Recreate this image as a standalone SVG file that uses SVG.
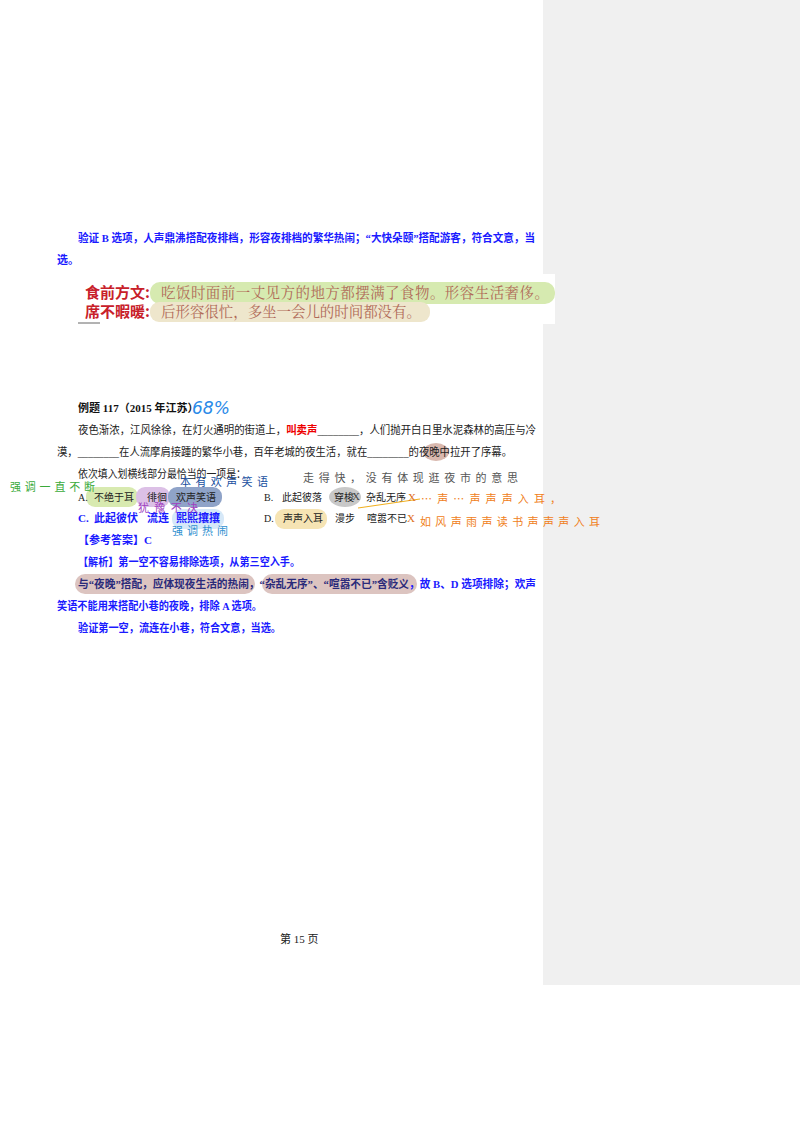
<svg xmlns="http://www.w3.org/2000/svg" width="800" height="1132" viewBox="0 0 800 1132">
<style>
text{font-family:"Liberation Serif","Noto Sans CJK SC",serif;font-size:11px}
.b{fill:#1a1aff;font-weight:bold}
.k{fill:#222}
.kb{fill:#111;font-weight:bold}
.hw{font-family:"Noto Sans CJK SC",sans-serif;font-size:11px}
.o text{font-size:10px}
</style>
<rect width="800" height="1132" fill="#fff"/>
<rect x="543" y="0" width="257" height="985" fill="#f0f0f0"/>
<g id="text1">
<text x="78" y="242" class="b" textLength="457" lengthAdjust="spacingAndGlyphs">验证 B 选项，人声鼎沸搭配夜排档，形容夜排档的繁华热闹；“大快朵颐”搭配游客，符合文意，当</text>
<text x="57" y="264" class="b">选。</text>
</g>
<g id="clip">
<rect x="80" y="274" width="475" height="50" fill="#fff"/>
<rect x="150" y="282" width="405" height="22" rx="10" fill="#d6eab0"/>
<rect x="150" y="302" width="280" height="20" rx="9" fill="#eee6cc"/>
<text x="85" y="298" style="font-family:'Noto Sans CJK SC',sans-serif;font-size:15px;font-weight:bold;fill:#c8202a">食前方文:</text>
<text x="85" y="317" style="font-family:'Noto Sans CJK SC',sans-serif;font-size:15px;font-weight:bold;fill:#c8202a">席不暇暖:</text>
<text x="161" y="298" textLength="388" style="font-family:'Noto Serif CJK SC','Noto Sans CJK SC',serif;font-size:14.5px;fill:#b06a58">吃饭时面前一丈见方的地方都摆满了食物。形容生活奢侈。</text>
<text x="161" y="317" textLength="260" style="font-family:'Noto Serif CJK SC','Noto Sans CJK SC',serif;font-size:14.5px;fill:#b06a58">后形容很忙，多坐一会儿的时间都没有。</text>
<line x1="78" y1="323" x2="100" y2="323" stroke="#666" stroke-width="1"/>
</g>
<g id="question">
<text x="78" y="412" class="kb">例题 117（2015 年江苏）</text>
<text x="192" y="414" style="font-family:'DejaVu Sans',sans-serif;font-size:17px;fill:#2a8ae8;font-style:italic">68%</text>
<text x="78" y="434" class="k" textLength="458" lengthAdjust="spacingAndGlyphs">夜色渐浓，江风徐徐，在灯火通明的街道上，<tspan fill="#e00" font-weight="bold">叫卖声</tspan>________，人们抛开白日里水泥森林的高压与冷</text>
<ellipse cx="436" cy="452" rx="13" ry="9" fill="#d9b8ae"/>
<text x="57" y="456" class="k" textLength="455" lengthAdjust="spacingAndGlyphs">漠，________在人流摩肩接踵的繁华小巷，百年老城的夜生活，就在________的夜晚中拉开了序幕。</text>
<text x="78" y="478" class="k" textLength="168" lengthAdjust="spacingAndGlyphs">依次填入划横线部分最恰当的一项是：</text>
<rect x="86" y="487" width="52" height="20" rx="9" fill="#d8eab0"/>
<rect x="136" y="487" width="34" height="20" rx="9" fill="#dcc0e6"/>
<rect x="168" y="487" width="54" height="20" rx="9" fill="#8fa3c8"/>
<ellipse cx="345" cy="497" rx="16" ry="10" fill="#c8c8c8"/>
<rect x="275" y="509" width="52" height="20" rx="9" fill="#f6e4b4"/>
<rect x="172" y="509" width="52" height="20" rx="9" fill="#d6e8f8"/>
<g class="k o">
<text x="78" y="501">A.</text><text x="94" y="501">不绝于耳</text><text x="147" y="501">徘徊</text><text x="176" y="501">欢声笑语</text>
<text x="264" y="501">B.</text><text x="282" y="501">此起彼落</text><text x="334" y="501">穿梭</text><text x="366" y="501">杂乱无序</text>
<text x="264" y="522">D.</text><text x="283" y="522">声声入耳</text><text x="335" y="522">漫步</text><text x="367" y="522">喧嚣不已</text>
</g>
<g class="b" font-size="11">
<text x="78" y="522">C.</text><text x="94" y="522">此起彼伏</text><text x="147" y="522">流连</text><text x="176" y="522">熙熙攘攘</text>
</g>
<line x1="358" y1="508" x2="420" y2="499" stroke="#f0b020" stroke-width="1.2"/>
<text x="352" y="500" fill="#444" font-size="9">X</text>
<text x="408" y="501" fill="#e07020" font-size="11">X</text>
<text x="407" y="522" fill="#e07020" font-size="11">X</text>
<text x="10" y="491" class="hw" fill="#3aaa3a" textLength="85">强调一直不断</text>
<text x="180" y="486" class="hw" fill="#2050a0" font-size="10" textLength="88">本有欢声笑语</text>
<text x="138" y="512" class="hw" fill="#a040c0" font-size="10" textLength="60">犹豫不决</text>
<text x="172" y="535" class="hw" fill="#3090d0" font-size="10" textLength="56">强调热闹</text>
<text x="303" y="482" class="hw" fill="#555" textLength="215">走得快，没有体现逛夜市的意思</text>
<text x="421" y="503" class="hw" fill="#f08020" textLength="140">…声…声声声入耳，</text>
<text x="420" y="526" class="hw" fill="#f08020" textLength="180">如风声雨声读书声声声入耳</text>
</g>
<g id="answer">
<text x="78" y="544" class="b">【参考答案】C</text>
<text x="78" y="566" class="b" textLength="222" lengthAdjust="spacingAndGlyphs">【解析】第一空不容易排除选项，从第三空入手。</text>
<rect x="75" y="574" width="180" height="20" rx="10" fill="#dcc4c0"/>
<rect x="262" y="574" width="155" height="20" rx="10" fill="#dcc4c0"/>
<text x="78" y="588" class="b" style="fill:#2a2a7a" textLength="458" lengthAdjust="spacingAndGlyphs">与“夜晚”搭配，应体现夜生活的热闹，“杂乱无序”、“喧嚣不已”含贬义<tspan fill="#1a1aff">，故 B、D 选项排除；欢声</tspan></text>
<text x="57" y="610" class="b" textLength="205" lengthAdjust="spacingAndGlyphs">笑语不能用来搭配小巷的夜晚，排除 A 选项。</text>
<text x="78" y="632" class="b" textLength="203" lengthAdjust="spacingAndGlyphs">验证第一空，流连在小巷，符合文意，当选。</text>
</g>
<text x="280" y="943" class="k" font-size="9">第 15 页</text>
</svg>
